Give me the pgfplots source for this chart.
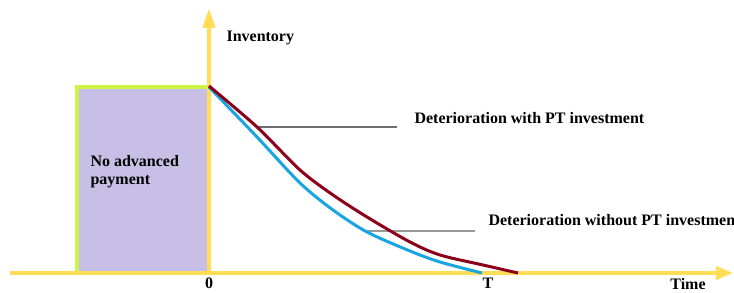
\documentclass[border=0pt]{standalone}
\usepackage{pgfplots}
\pgfplotsset{compat=1.18}
\usetikzlibrary{arrows.meta}
\usepackage{fontspec}
\setmainfont{Liberation Serif}
\definecolor{axisyellow}{RGB}{255,221,85}
\definecolor{greenborder}{RGB}{205,245,70}
\definecolor{lav}{RGB}{200,191,230}
\definecolor{dred}{RGB}{140,0,25}
\definecolor{cblue}{RGB}{25,165,225}
\definecolor{lgray}{RGB}{110,110,110}
\newcommand{\lf}{\fontsize{16}{18}\selectfont\bfseries}
\begin{document}
\begin{tikzpicture}
\begin{axis}[hide axis, x=1pt, y=1pt, xmin=-209, xmax=525, ymin=-19, ymax=273,
  clip=false, scale only axis]
% no advanced payment box
\addplot[fill=lav, draw=none] coordinates {(-132,0) (-132,186) (0,186) (0,0)} -- cycle;
\addplot[draw=greenborder, line width=3.5pt] coordinates {(-132,0) (-132,186) (0,186)};
% axes
\addplot[draw=axisyellow, line width=4pt, -{Triangle[width=13pt,length=17pt]}] coordinates {(-199,0) (524,0)};
\addplot[draw=axisyellow, line width=4pt, -{Triangle[width=12pt,length=20pt]}] coordinates {(0,0) (0,265)};
% annotation lines
\addplot[draw=lgray, line width=1.2pt] coordinates {(49,146) (188,146)};
\addplot[draw=lgray!70, line width=1.4pt] coordinates {(154,42) (266,42)};
% curves
\addplot[draw=cblue, line width=3pt, smooth, tension=0.5] coordinates {
(0,186) (48,136) (91,90) (124,63) (158,41) (201,22) (231,11) (273,0)};
\addplot[draw=dred, line width=3pt, smooth, tension=0.5] coordinates {
(0,187) (48,146) (91,103) (124,78) (158,56) (201,31) (231,18) (274,8) (309,0)};
% labels
\node[anchor=west, font=\lf] at (axis cs:14,235) {Inventory};
\node[anchor=west, align=left, font=\lf] at (axis cs:-122,101) {No advanced\\payment};
\node[font=\lf] at (axis cs:0,-10) {0};
\node[font=\lf] at (axis cs:279,-10) {T};
\node[font=\lf] at (axis cs:479,-11) {Time};
\node[anchor=west, font=\lf] at (axis cs:202,155) {Deterioration with PT investment};
\node[anchor=west, font=\lf] at (axis cs:276,53) {Deterioration without PT investmen};
\end{axis}
\pgfresetboundingbox
\path[use as bounding box] (current axis.south west) rectangle (current axis.north east);
\end{tikzpicture}
\end{document}
